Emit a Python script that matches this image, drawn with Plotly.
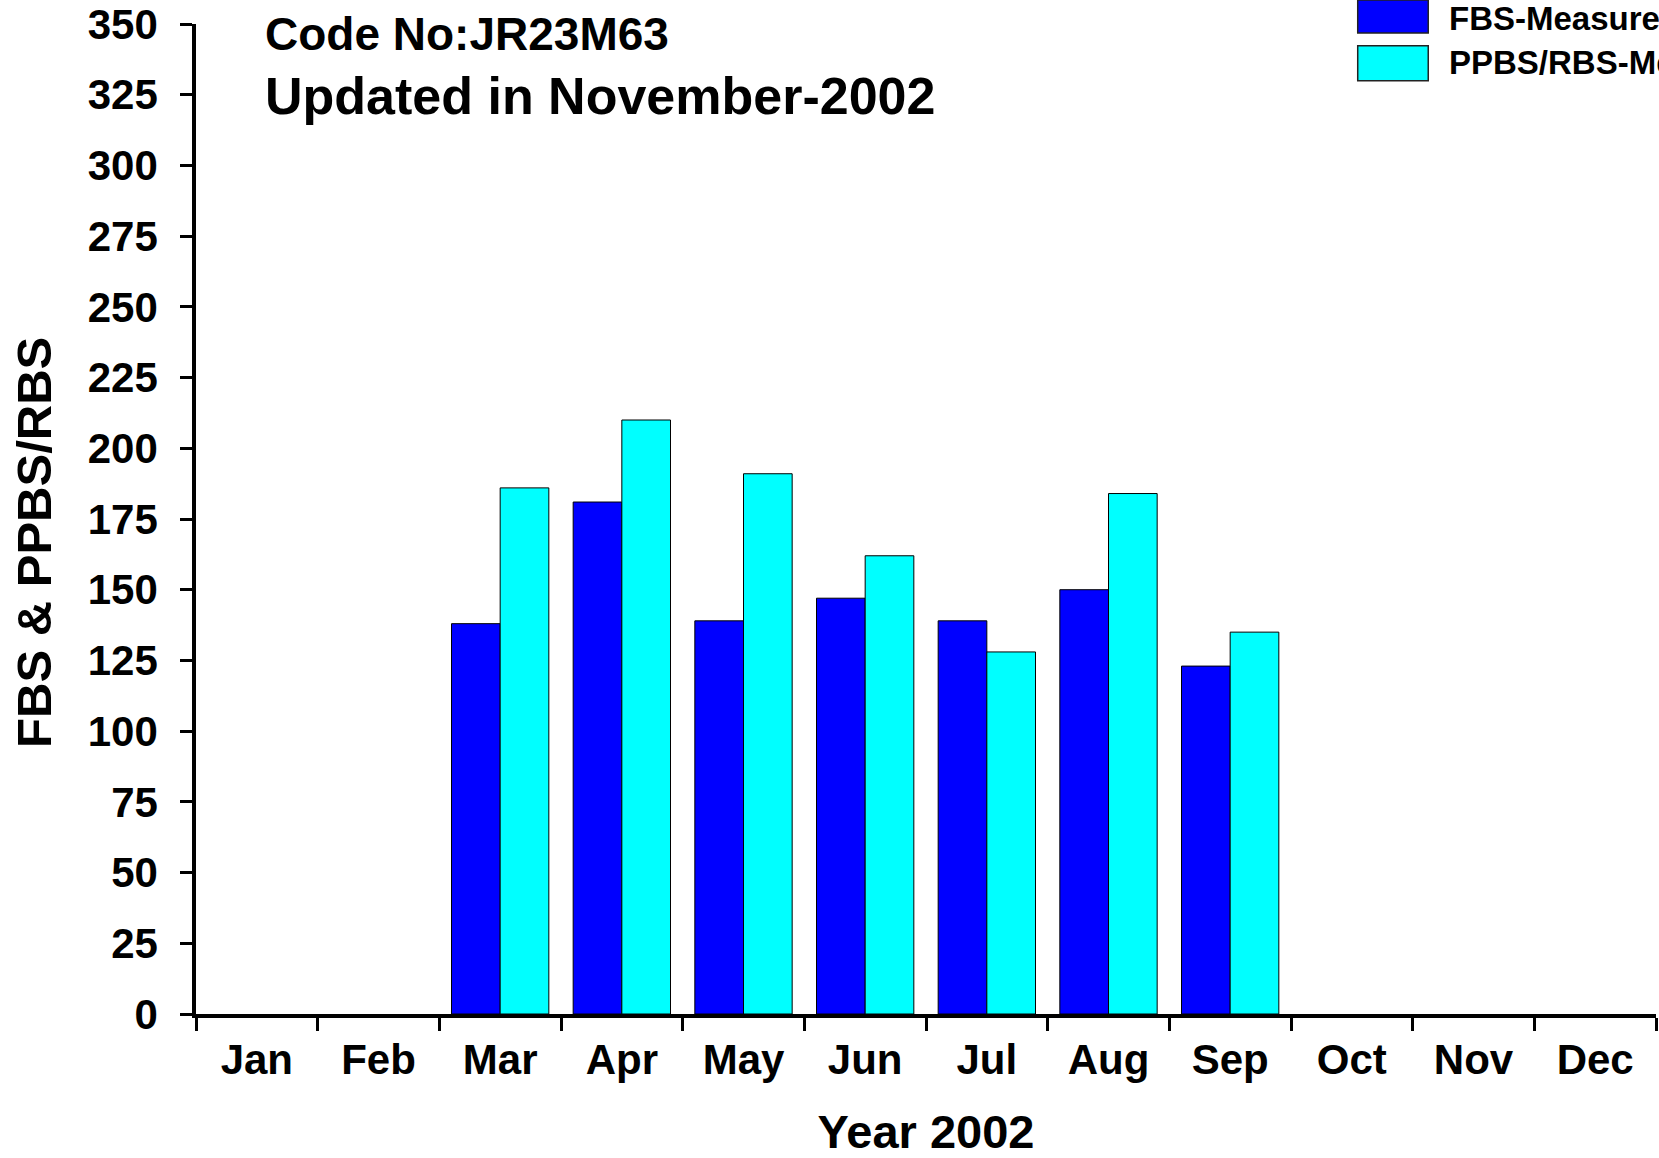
import plotly.graph_objects as go

months = ["Jan", "Feb", "Mar", "Apr", "May", "Jun",
          "Jul", "Aug", "Sep", "Oct", "Nov", "Dec"]
fbs = [None, None, 138, 181, 139, 147, 139, 150, 123, None, None, None]
ppbs = [None, None, 186, 210, 191, 162, 128, 184, 135, None, None, None]
series_names = ["FBS-Measurement", "PPBS/RBS-Measurement"]
series_colors = ["#0000ff", "#00ffff"]

FONT = "Arial, Liberation Sans, sans-serif"

fig = go.Figure()
for name, vals, col in zip(series_names, [fbs, ppbs], series_colors):
    fig.add_trace(go.Bar(x=months, y=vals, name=name, marker_color=col,
                         marker_line=dict(color="black", width=1)))

fig.update_layout(
    width=1659, height=1158,
    margin=dict(l=196, r=3, t=24, b=144, autoexpand=False),
    paper_bgcolor="white", plot_bgcolor="white",
    barmode="group", bargap=0.2, bargroupgap=0,
    showlegend=False,
    font=dict(family=FONT, color="black", size=38, weight="bold"),
)
fig.update_xaxes(
    type="category", categoryarray=months, range=[-0.5, len(months) - 0.5],
    showline=True, linecolor="black", linewidth=3.5,
    ticks="outside", tickson="boundaries", ticklen=13, tickwidth=3, tickcolor="black",
    showgrid=False, tickfont=dict(size=42), ticklabelstandoff=6,
    title=dict(text="Year 2002", font=dict(size=47), standoff=37),
)
# inner half of the x ticks (they cross the axis line in the original)
fig.update_layout(xaxis2=dict(
    overlaying="x", anchor="y", type="linear", range=[-0.5, len(months) - 0.5],
    tickmode="array", tickvals=[i - 0.5 for i in range(len(months) + 1)],
    ticks="inside", ticklen=11, tickwidth=3, tickcolor="black",
    showticklabels=False, showgrid=False, zeroline=False, showline=False,
))
fig.update_yaxes(
    range=[0, 350], dtick=25, showline=True, linecolor="black", linewidth=3.5,
    ticks="outside", ticklen=12, tickwidth=3, tickcolor="black",
    showgrid=False, zeroline=False, tickfont=dict(size=42), ticklabelstandoff=14,
)

fig.add_annotation(text="FBS & PPBS/RBS", textangle=-90, xref="paper", yref="paper",
                   x=-0.111, y=0.4768, xanchor="center", showarrow=False, font=dict(size=49))
fig.add_annotation(text="Code No:JR23M63", xref="paper", yref="paper", x=0.046, y=0.9895,
                   xanchor="left", yanchor="middle", showarrow=False, font=dict(size=46))
fig.add_annotation(text="Updated in November-2002", xref="paper", yref="paper", x=0.046, y=0.927,
                   xanchor="left", yanchor="middle", showarrow=False, font=dict(size=52))

# legend: large swatches like the original
box_y = [(1.0242, 0.9909), (0.978, 0.9427)]
text_y = [1.006, 0.9616]
for name, col, (y0, y1), ty in zip(series_names, series_colors, box_y, text_y):
    fig.add_shape(type="rect", xref="paper", yref="paper", x0=0.7957, x1=0.844, y0=y1, y1=y0,
                  fillcolor=col, line=dict(color="#222222", width=1.5))
    fig.add_annotation(text=name, xref="paper", yref="paper", x=0.8566, y=ty,
                       xanchor="left", yanchor="middle", showarrow=False, font=dict(size=33))

# drop the default 8px body margin so the figure sits at the window's corner
fig.write_html("out.html", config={"displayModeBar": False},
               post_script="document.body.style.margin='0';")
